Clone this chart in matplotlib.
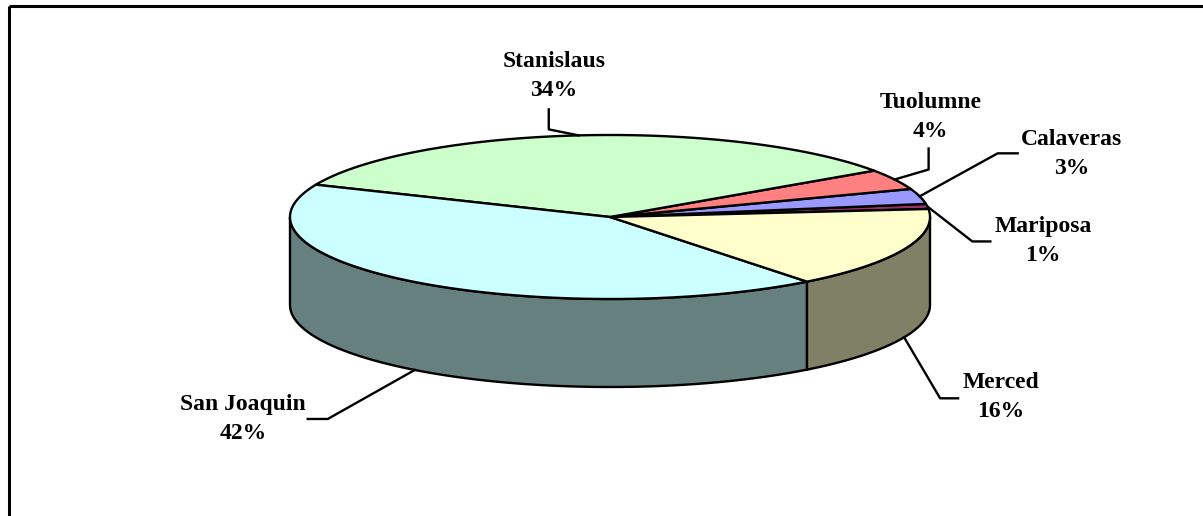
import numpy as np
import matplotlib.pyplot as plt
from matplotlib.colors import to_rgb

# slices in counter-clockwise order, starting just above 3 o'clock
counties = ['Mariposa', 'Calaveras', 'Tuolumne', 'Stanislaus', 'San Joaquin', 'Merced']
shares = [1, 3, 4, 34, 42, 16]
top_colors = ['#993366', '#9999FF', '#FF8080', '#CCFFCC', '#CCFFFF', '#FFFFCC']

# label layout (pixels) relative to the slice anchor on the rim
text_off = [(116, 35), (152, -42), (36, -63), (-25, -59), (-172, 49), (97, 60)]
elbow_off = [(45, 35), (78, -43), (34, -10), (-30, -6), (-87, 49), (36, 61)]
end_off = [(63, 35), (98, -43), (34, -31), (-30, -26), (-107, 49), (54, 61)]

W, H = 1203, 516
cx, cy, rx, ry, depth = 610, 217, 320, 82, 88
start = 5.6

fig = plt.figure(figsize=(W / 100, H / 100), dpi=100)
ax = fig.add_axes([0, 0, 1, 1])
ax.set_xlim(0, W)
ax.set_ylim(H, 0)
ax.axis('off')


def rim(t, dy=0):
    r = np.radians(t)
    return cx + rx * np.cos(r), cy - ry * np.sin(r) + dy


angles = start + 360 * np.concatenate([[0], np.cumsum(shares)]) / sum(shares)

# side walls (only the front half is visible)
for i, c in enumerate(top_colors):
    a, b = angles[i], angles[i + 1]
    side = tuple(0.5 * v for v in to_rgb(c))
    for lo, hi in [(180, 360), (540, 720)]:
        s, e = max(a, lo), min(b, hi)
        if e <= s:
            continue
        t = np.linspace(s, e, 100)
        x, y = rim(t)
        xb, yb = rim(t[::-1], depth)
        ax.fill(np.r_[x, xb], np.r_[y, yb], facecolor=side,
                edgecolor='black', lw=1.7, zorder=1)

# top surface
for i, c in enumerate(top_colors):
    t = np.linspace(angles[i], angles[i + 1], 200)
    x, y = rim(t)
    ax.fill(np.r_[cx, x], np.r_[cy, y], facecolor=c,
            edgecolor='black', lw=1.7, zorder=2, joinstyle='round')

# labels with leader lines
for i, name in enumerate(counties):
    mid = (angles[i] + angles[i + 1]) / 2
    front = np.sin(np.radians(mid)) < 0
    ax_, ay_ = rim(mid, depth if front else 0)
    ex, ey = ax_ + elbow_off[i][0], ay_ + elbow_off[i][1]
    nx, ny = ax_ + end_off[i][0], ay_ + end_off[i][1]
    ax.plot([ax_, ex, nx], [ay_, ey, ny], color='black', lw=1.7, zorder=3)
    ax.text(ax_ + text_off[i][0], ay_ + text_off[i][1],
            f'{name}\n{shares[i]}%', ha='center', va='center',
            multialignment='center', fontsize=17, fontweight='bold',
            family='Liberation Serif', linespacing=1.5, zorder=4)

# chart frame (top and left edges visible)
ax.plot([8.5, W], [5.5, 5.5], color='black', lw=2.2, solid_capstyle='butt')
ax.plot([8.5, 8.5], [5.5, H], color='black', lw=2.2, solid_capstyle='butt')

fig.savefig('out.png', dpi=100)
